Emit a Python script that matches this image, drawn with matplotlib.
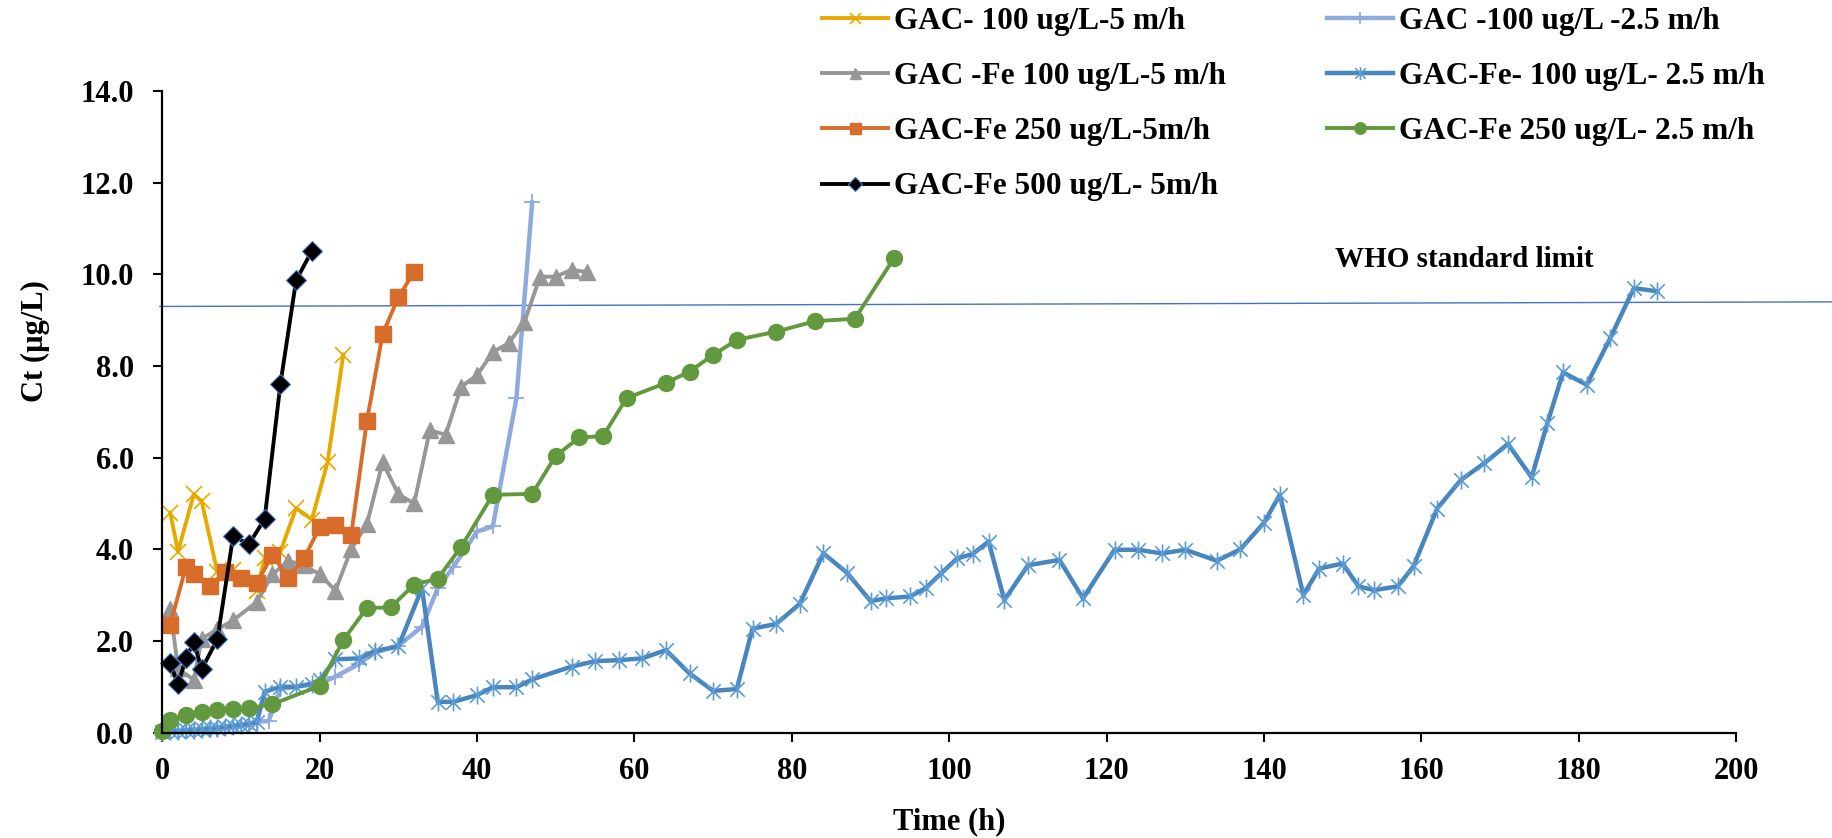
import numpy as np
import matplotlib.pyplot as plt
from matplotlib.path import Path

plt.rcParams['font.family'] = ['Liberation Serif', 'DejaVu Serif']
plt.rcParams['font.weight'] = 'bold'
plt.rcParams['axes.labelweight'] = 'bold'

# GAC- 100 ug/L-5 m/h
t_gac100_5 = [1, 2, 4, 5, 7, 9, 12, 13, 15, 17, 19, 21, 23]
c_gac100_5 = [4.8, 3.95, 5.2, 5.05, 3.5, 3.55, 3.1, 3.8, 3.95, 4.9, 4.65, 5.9, 8.25]

# GAC -100 ug/L -2.5 m/h
t_gac100_25 = [0, 1, 2, 3, 4, 5, 6, 7, 8, 9, 10, 11, 12, 13.5, 15, 20, 22, 25, 27, 30, 33,
               35, 37, 40, 42, 45, 47]
c_gac100_25 = [0.0, 0.01, 0.02, 0.03, 0.04, 0.05, 0.06, 0.08, 0.1, 0.12, 0.15, 0.2, 0.24, 0.25,
               0.95, 1.07, 1.22, 1.5, 1.75, 1.9, 2.31, 3.15, 3.62, 4.39, 4.5, 7.3, 11.57]

# GAC -Fe 100 ug/L-5 m/h
t_fe100_5 = [1, 2, 4, 5, 7, 9, 12, 14, 16, 18, 20, 22, 24, 26, 28, 30, 32, 34, 36, 38, 40,
             42, 44, 46, 48, 50, 52, 54]
c_fe100_5 = [2.7, 1.4, 1.15, 2.05, 2.25, 2.45, 2.85, 3.45, 3.75, 3.65, 3.45, 3.1, 4.0, 4.55,
             5.9, 5.2, 5.0, 6.6, 6.5, 7.55, 7.8, 8.3, 8.5, 8.95, 9.95, 9.95, 10.1, 10.05]

# GAC-Fe- 100 ug/L- 2.5 m/h
t_fe100_25 = [0, 1, 2, 3, 4, 5, 6, 7, 8, 9, 10, 11, 12, 13, 15, 17, 19, 20, 22, 25, 27, 30,
              33, 35, 37, 40, 42, 45, 47, 52, 55, 58, 61, 64, 67, 70, 73, 75, 78, 81, 84, 87,
              90, 92, 95, 97, 99, 101, 103, 105, 107, 110, 114, 117, 121, 124, 127, 130, 134,
              137, 140, 142, 145, 147, 150, 152, 154, 157, 159, 162, 165, 168, 171, 174, 176,
              178, 181, 184, 187, 190]
c_fe100_25 = [0.02, 0.03, 0.04, 0.05, 0.06, 0.08, 0.09, 0.11, 0.13, 0.15, 0.17, 0.19, 0.22,
              0.89, 1.0, 1.0, 1.07, 1.15, 1.6, 1.62, 1.78, 1.88, 3.15, 0.67, 0.67, 0.82, 0.99,
              0.99, 1.16, 1.44, 1.56, 1.58, 1.62, 1.8, 1.29, 0.91, 0.95, 2.27, 2.37, 2.81, 3.91,
              3.49, 2.87, 2.93, 2.97, 3.15, 3.48, 3.8, 3.9, 4.17, 2.89, 3.65, 3.77, 2.93, 3.99,
              3.99, 3.91, 3.99, 3.75, 4.0, 4.58, 5.19, 3.0, 3.58, 3.69, 3.19, 3.11, 3.19, 3.63,
              4.89, 5.51, 5.88, 6.3, 5.57, 6.75, 7.86, 7.59, 8.61, 9.7, 9.63]

# GAC-Fe 250 ug/L-5m/h
t_fe250_5 = [1, 3, 4, 6, 8, 10, 12, 14, 16, 18, 20, 22, 24, 26, 28, 30, 32]
c_fe250_5 = [2.35, 3.62, 3.46, 3.19, 3.51, 3.37, 3.26, 3.88, 3.37, 3.8, 4.48, 4.53, 4.31,
             6.8, 8.7, 9.5, 10.06]

# GAC-Fe 250 ug/L- 2.5 m/h
t_fe250_25 = [0, 1, 3, 5, 7, 9, 11, 14, 20, 23, 26, 29, 32, 35, 38, 42, 47, 50, 53, 56, 59,
              64, 67, 70, 73, 78, 83, 88, 93]
c_fe250_25 = [0.04, 0.27, 0.38, 0.44, 0.49, 0.51, 0.53, 0.62, 1.02, 2.02, 2.72, 2.73, 3.23,
              3.36, 4.06, 5.19, 5.21, 6.04, 6.44, 6.47, 7.3, 7.63, 7.88, 8.24, 8.57, 8.75,
              8.98, 9.03, 10.36]

# GAC-Fe 500 ug/L- 5m/h
t_fe500_5 = [1, 2, 3, 4, 5, 7, 9, 11, 13, 15, 17, 19]
c_fe500_5 = [1.51, 1.05, 1.62, 1.98, 1.38, 2.04, 4.29, 4.11, 4.66, 7.6, 9.87, 10.51]

# WHO limit line (drawn shape, runs past the plot area)
who_t = [-0.3, 212.2]
who_c = [9.30, 9.40]

labels = ['GAC- 100 ug/L-5 m/h', 'GAC -100 ug/L -2.5 m/h', 'GAC -Fe 100 ug/L-5 m/h',
          'GAC-Fe- 100 ug/L- 2.5 m/h', 'GAC-Fe 250 ug/L-5m/h', 'GAC-Fe 250 ug/L- 2.5 m/h',
          'GAC-Fe 500 ug/L- 5m/h']

star = Path([(-0.8, -0.8), (0.8, 0.8), (-0.8, 0.8), (0.8, -0.8), (0, -1), (0, 1)],
            [Path.MOVETO, Path.LINETO, Path.MOVETO, Path.LINETO, Path.MOVETO, Path.LINETO])

fig = plt.figure(figsize=(18.32, 8.38), dpi=100)
ax = fig.add_axes([0.0886, 0.1258, 0.8591, 0.7655])

l_lav, = ax.plot(t_gac100_25, c_gac100_25, color='#8faadc', lw=3.2, marker='+', ms=12, mew=1.3,
                 label=labels[1], clip_on=False)
l_blue, = ax.plot(t_fe100_25, c_fe100_25, color='#4a86be', lw=3.2, marker=star, ms=13, mew=1.2,
                  mec='#5b9bd5', label=labels[3], clip_on=False)
l_yel, = ax.plot(t_gac100_5, c_gac100_5, color='#e6a900', lw=2.8, marker='x', ms=11, mew=1.2,
                 label=labels[0], clip_on=False)
l_gray, = ax.plot(t_fe100_5, c_fe100_5, color='#979797', lw=2.8, marker='^', ms=11,
                  label=labels[2], clip_on=False)
l_or, = ax.plot(t_fe250_5, c_fe250_5, color='#d86c2b', lw=2.8, marker='s', ms=11,
                label=labels[4], clip_on=False)
l_gr, = ax.plot(t_fe250_25, c_fe250_25, color='#62993e', lw=2.8, marker='o', ms=11.5,
                label=labels[5], clip_on=False)
l_blk, = ax.plot(t_fe500_5, c_fe500_5, color='black', lw=2.8, marker='D', ms=10.5,
                 mec='#4472c4', mew=0.8, label=labels[6], clip_on=False)

ax.plot(who_t, who_c, color='#4472c4', lw=1.0, clip_on=False, zorder=1)
ax.text(165.5, 10.17, 'WHO standard limit', fontsize=21, ha='center', va='baseline')

ax.set_xlim(0, 200)
ax.set_ylim(0, 14)
ax.set_xticks(np.arange(0, 201, 20))
ax.set_yticks(np.arange(0, 14.1, 2))
ax.set_yticklabels(['%.1f' % v for v in np.arange(0, 14.1, 2)])
ax.tick_params(axis='both', direction='out', length=6.5, width=1.5, labelsize=22)
ax.tick_params(axis='y', pad=14)
ax.tick_params(axis='x', pad=11)
for s in ['top', 'right']:
    ax.spines[s].set_visible(False)
for s in ['left', 'bottom']:
    ax.spines[s].set_linewidth(1.6)

ax.set_xlabel('Time (h)', fontsize=22, fontweight='bold')
ax.xaxis.set_label_coords(0.5, -0.117)
ax.set_ylabel('Ct (µg/L)', fontsize=22, fontweight='bold')
ax.yaxis.set_label_coords(-0.0714, 0.61)

fig.legend(handles=[l_yel, l_gray, l_or, l_blk, l_lav, l_blue, l_gr], ncol=2,
           loc='upper left', bbox_to_anchor=(0.4487, 0.992), frameon=False,
           fontsize=22.5, handlelength=2.1, handletextpad=0.2, columnspacing=3.25,
           labelspacing=0.84, borderpad=0, borderaxespad=0, markerscale=0.72)

fig.savefig('out.png', dpi=100)
